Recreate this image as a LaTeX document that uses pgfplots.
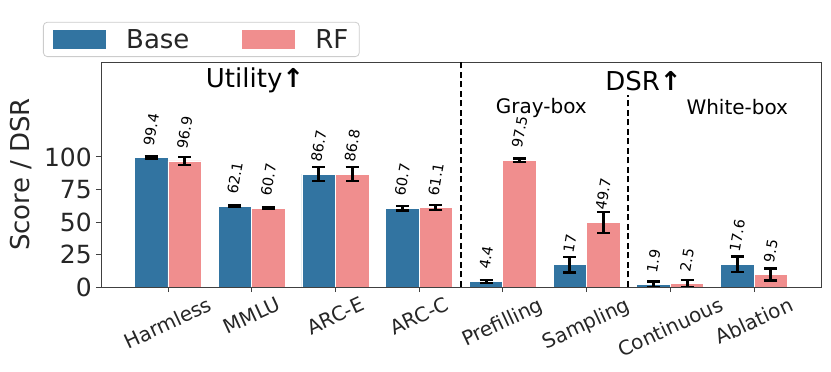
\documentclass[border=0pt]{standalone}
\usepackage{graphicx}
\usepackage{fontspec}
\setmainfont{DejaVu Sans}
\usepackage{pgfplots}
\pgfplotsset{compat=1.18}

\definecolor{basecol}{HTML}{3274A1}
\definecolor{rfcol}{HTML}{F08E8E}
\definecolor{spine}{HTML}{404040}

\begin{document}
\begin{tikzpicture}
\useasboundingbox (-101pt,-85pt) rectangle (730pt,287pt);
\begin{axis}[
    at={(0,0)}, anchor=south west,
    scale only axis, width=720pt, height=225pt,
    xmin=-0.8, xmax=7.8, ymin=0, ymax=173,
    axis line style={spine, line width=0.9pt},
    tick style={spine, line width=0.9pt},
    major tick length=5pt, tick align=outside,
    xtick pos=bottom, ytick pos=left,
    xtick={0,...,7},
    xticklabels={\rotatebox{25}{Harmless},\rotatebox{25}{MMLU},\rotatebox{25}{ARC-E},\rotatebox{25}{ARC-C},
                 \rotatebox{25}{Prefilling},\rotatebox{25}{Sampling},\rotatebox{25}{Continuous},\rotatebox{25}{Ablation}},
    x tick label style={font=\fontsize{20}{24}\selectfont, anchor=north, inner sep=0pt, yshift=-4pt, text=black!85},
    ytick={0,25,50,75,100},
    y tick label style={font=\fontsize{25}{30}\selectfont, inner sep=0pt, xshift=-4pt, text=black!85},
    /pgf/number format/assume math mode=true,
    ylabel={Score / DSR},
    ylabel style={font=\fontsize{26}{31}\selectfont, at={(axis description cs:-0.111,0.5)}, anchor=center, text=black!85},
    legend style={at={(axis description cs:-0.0806,1.022)}, anchor=south west,
        draw=black!20, rounded corners=4pt, line width=0.8pt, fill=white,
        font=\fontsize{26}{31}\selectfont, text=black!85,
        inner xsep=10pt, inner ysep=6pt,
        nodes={inner sep=1pt},
        /tikz/every odd column/.style={column sep=19pt},
        /tikz/every even column/.style={column sep=52pt}},
    legend columns=2, legend cell align=left,
    nodes near coords style={font=\fontsize{14.5}{17}\selectfont, anchor=south, inner sep=0pt, yshift=11pt, text=black},
    error bars/error bar style={black, line width=3pt},
    error bars/error mark options={black, rotate=90, mark size=6.5pt, line width=2.4pt},
]
\addlegendimage{legend image code/.code={\fill[basecol, sharp corners] (1pt,-9pt) rectangle (53pt,9pt);}}
\addlegendentry{Base}
\addlegendimage{legend image code/.code={\fill[rfcol, sharp corners] (1pt,-9pt) rectangle (53pt,9pt);}}
\addlegendentry{RF}

% Base (bars at category - 0.2)
\addplot[forget plot, ybar, bar width=0.4, fill=basecol, draw=white, line width=0.8pt,
    nodes near coords={\rotatebox{80}{\pgfmathprintnumber{\pgfplotspointmeta}}},
    error bars/.cd, y dir=both, y explicit]
coordinates {
    (-0.2,99.4) +- (0,1.0)
    (0.8,62.1)  +- (0,0.5)
    (1.8,86.7)  +- (0,5.4)
    (2.8,60.7)  +- (0,1.8)
    (3.8,4.4)   +- (0,1.2)
    (4.8,17.0)  +- (0,5.9)
    (5.8,1.9)   +- (0,2.2)
    (6.8,17.6)  +- (0,5.9)
};

% RF (bars at category + 0.2)
\addplot[forget plot, ybar, bar width=0.4, fill=rfcol, draw=white, line width=0.8pt,
    nodes near coords={\rotatebox{80}{\pgfmathprintnumber{\pgfplotspointmeta}}},
    error bars/.cd, y dir=both, y explicit]
coordinates {
    (0.2,96.9) +- (0,3.0)
    (1.2,60.7) +- (0,0.5)
    (2.2,86.8) +- (0,5.4)
    (3.2,61.1) +- (0,1.8)
    (4.2,97.5) +- (0,1.2)
    (5.2,49.7) +- (0,8.0)
    (6.2,2.5)  +- (0,2.7)
    (7.2,9.5)  +- (0,4.6)
};

% separators
\addplot[forget plot, black, dash pattern=on 6pt off 3.5pt, line width=2pt] coordinates {(3.5,0)(3.5,173)};
\addplot[forget plot, black, dash pattern=on 6pt off 3.5pt, line width=2pt] coordinates {(5.5,0)(5.5,148)};

\node[font=\fontsize{26}{31}\selectfont] at (axis cs:1.04,159) {Utility{\bfseries ↑}};
\node[font=\fontsize{26}{31}\selectfont] at (axis cs:5.68,158) {DSR{\bfseries ↑}};
\node[font=\fontsize{20}{24}\selectfont] at (axis cs:4.46,138) {Gray-box};
\node[font=\fontsize{20}{24}\selectfont] at (axis cs:6.80,138) {White-box};
\end{axis}
\end{tikzpicture}
\end{document}
